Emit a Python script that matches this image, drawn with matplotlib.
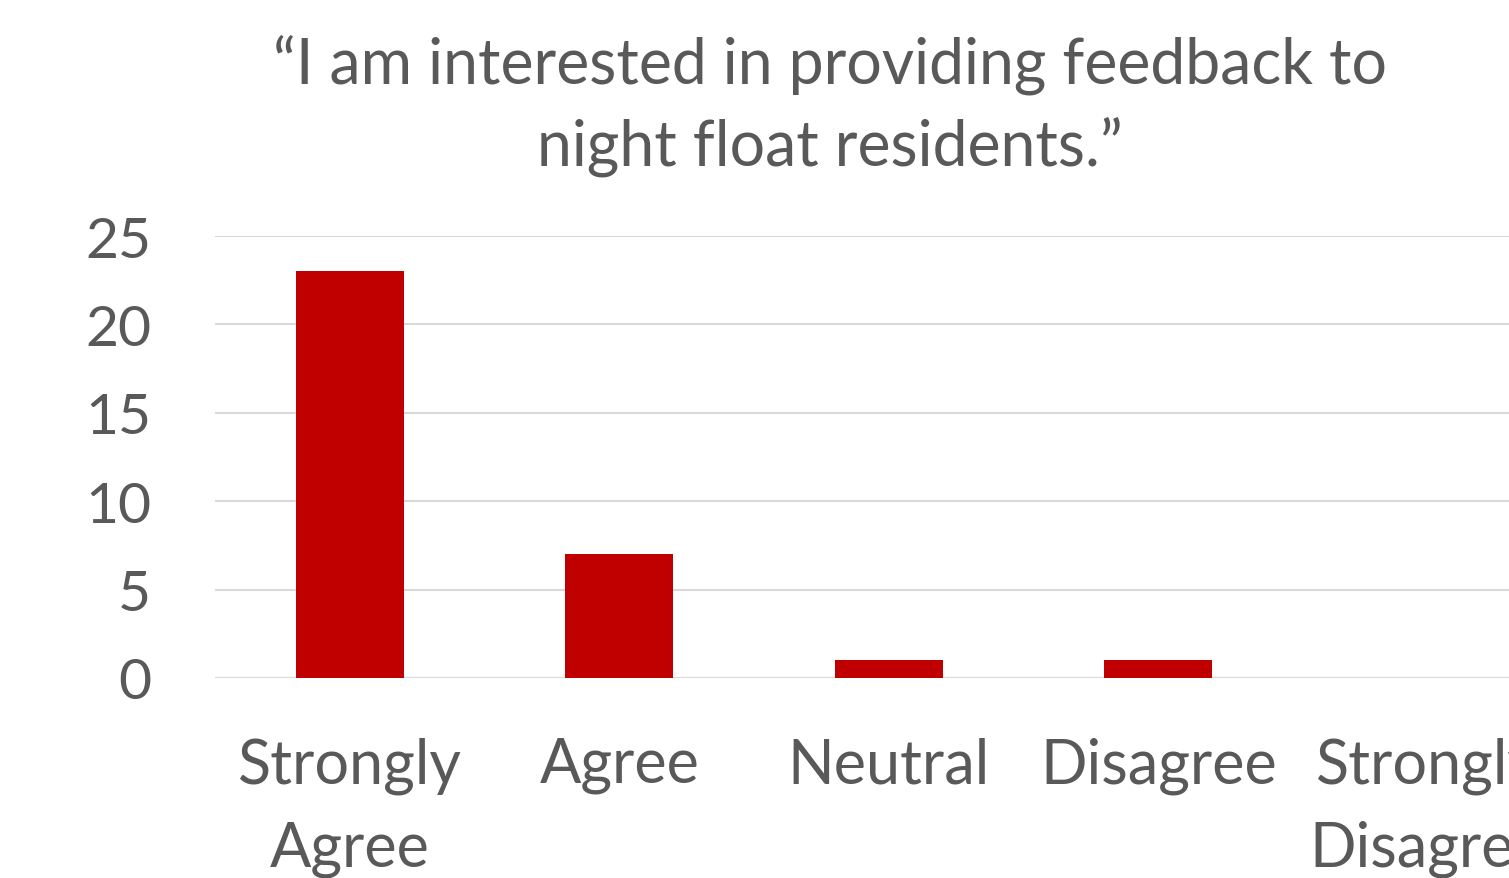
import matplotlib
matplotlib.use("Agg")
import matplotlib.pyplot as plt

categories = ["Strongly\nAgree", "Agree", "Neutral", "Disagree", "Strongly\nDisagree"]
counts = [23, 7, 1, 1, 0]
yticks = [0, 5, 10, 15, 20, 25]

plt.rcParams['font.family'] = ['Lato', 'DejaVu Sans']
text_color = '#595959'

fig = plt.figure(figsize=(15.09, 8.79), dpi=100)
# plot area runs past the right edge of the figure
ax = fig.add_axes([215 / 1509, 1 - 679 / 879, 1347.5 / 1509, 442 / 879])

x = range(len(categories))
ax.bar(x, counts, width=0.4, color='#C00000', zorder=3)

ax.set_xlim(-0.5, len(categories) - 0.5)
ax.set_ylim(0, 25)
ax.set_yticks(yticks)
ax.yaxis.grid(True, color='#D9D9D9', linewidth=1.5, zorder=0)
for s in ax.spines.values():
    s.set_visible(False)
ax.axhline(0, color='#D9D9D9', linewidth=1.5, zorder=1)

ax.set_xticks(list(x))
ax.set_xticklabels(categories, linespacing=1.55)
ax.tick_params(axis='y', length=0, pad=46, labelsize=41, labelcolor=text_color)
ax.tick_params(axis='x', length=0, pad=42, labelsize=44, labelcolor=text_color)

fig.text(830 / 1509, 1 - 34 / 879,
         "\u201cI am interested in providing feedback to\nnight float residents.\u201d",
         ha='center', va='top', fontsize=45, color=text_color, linespacing=1.45)

fig.savefig("out.png", dpi=100)
